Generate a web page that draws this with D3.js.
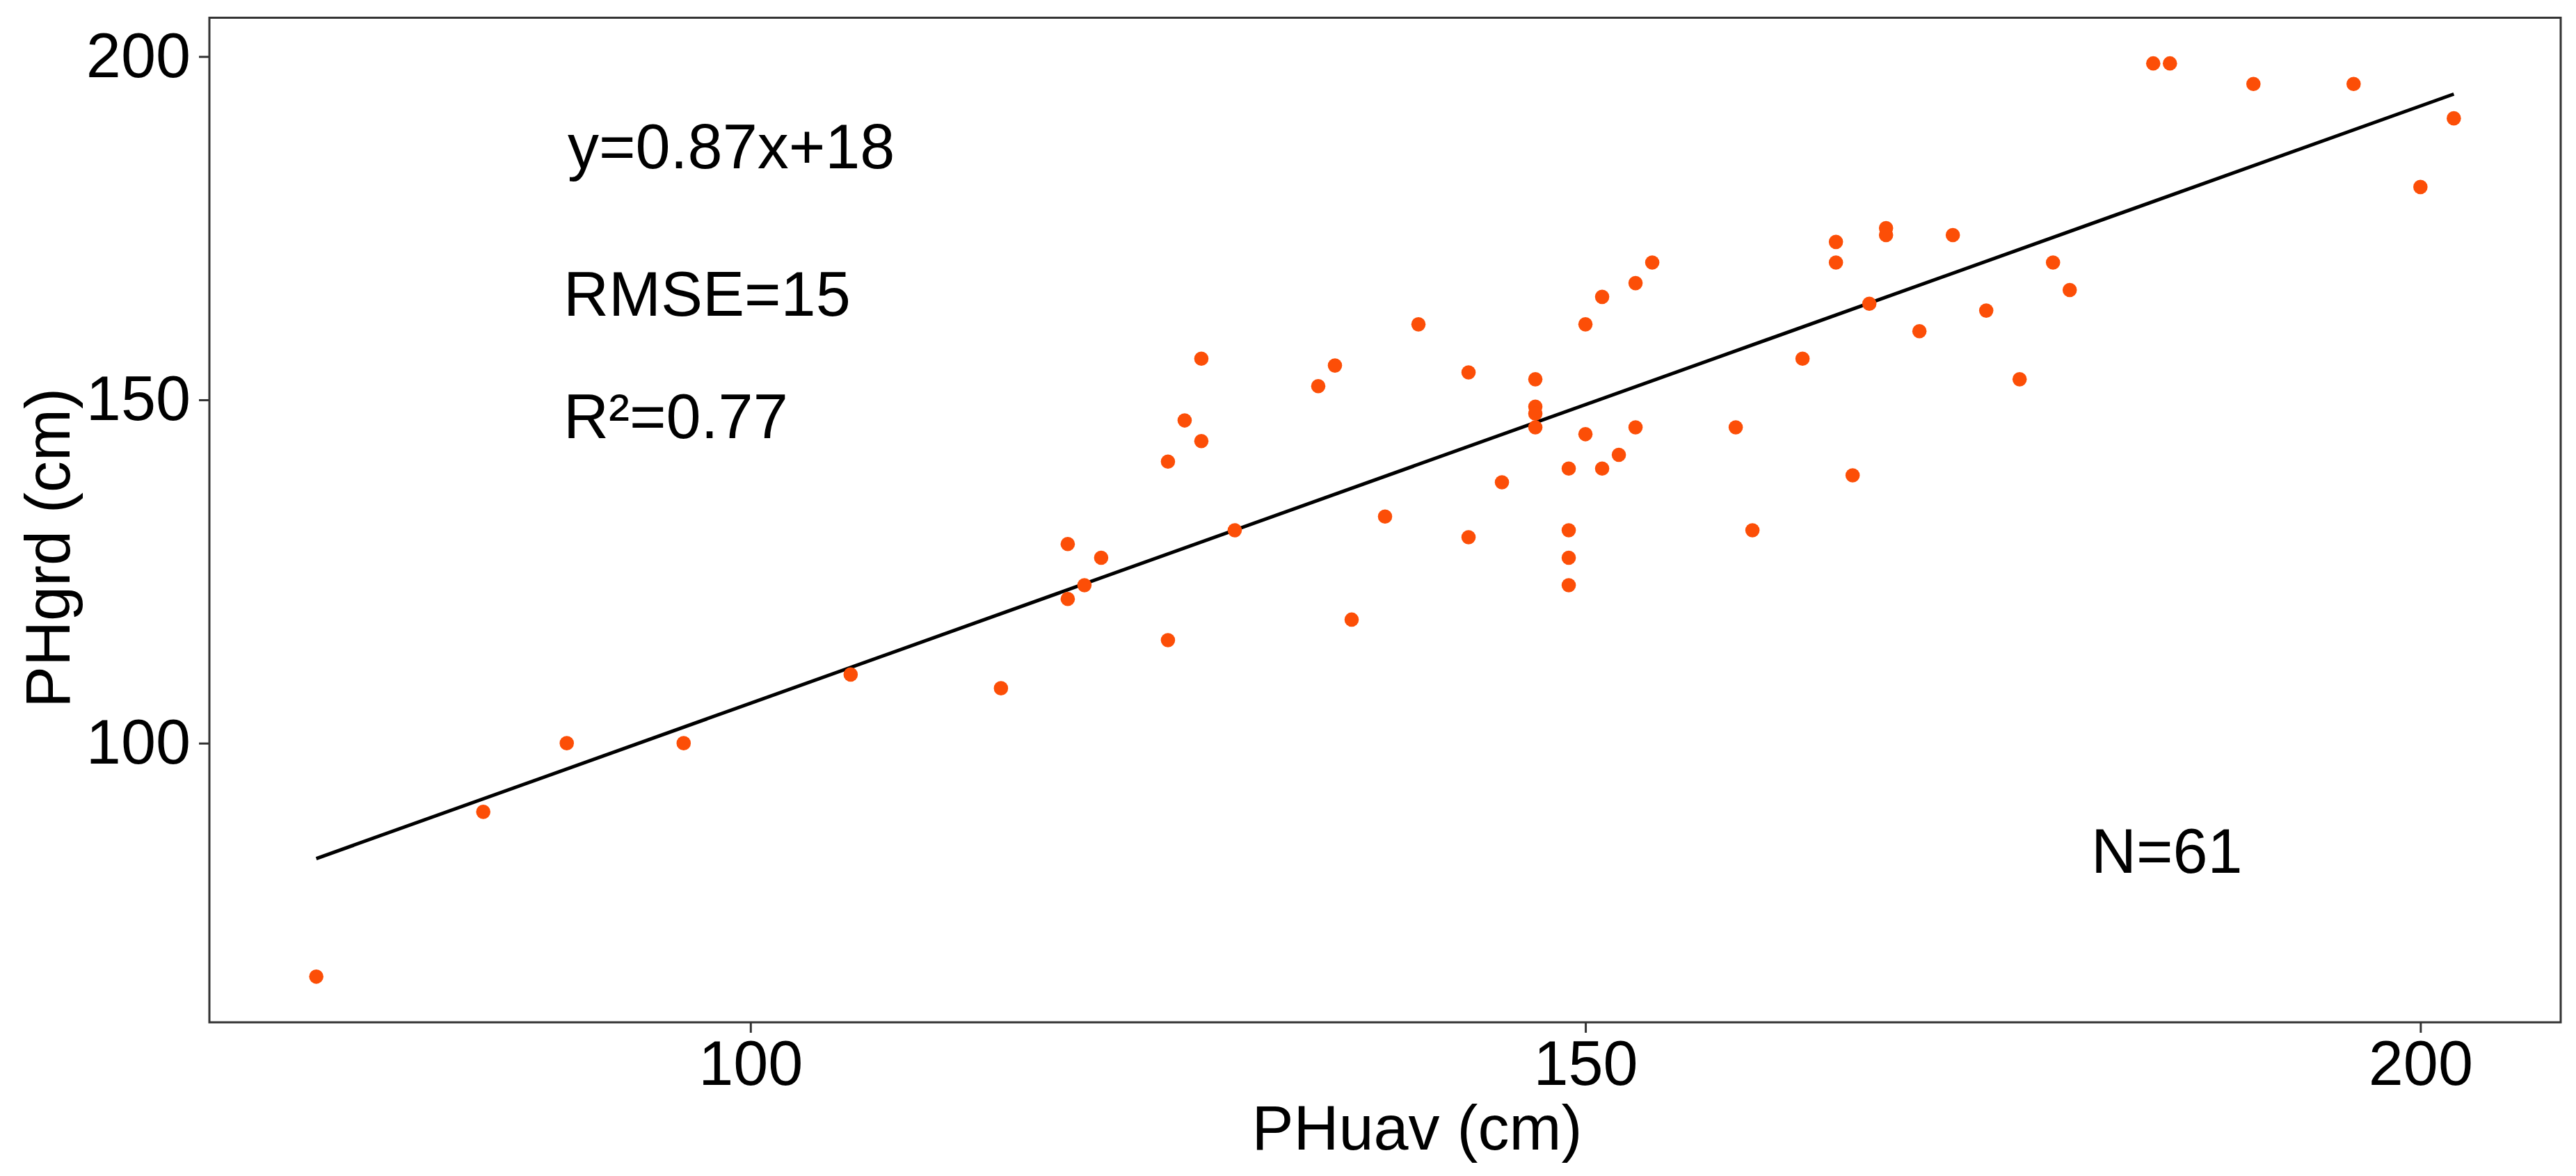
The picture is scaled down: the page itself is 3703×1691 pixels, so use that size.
<!DOCTYPE html>
<html>
<head>
<meta charset="utf-8">
<script src="https://cdn.jsdelivr.net/npm/d3@7"></script>
<style>
  html, body { margin: 0; padding: 0; background: #fff; }
  text { font-family: "Liberation Sans", Arial, sans-serif; fill: #000; }
</style>
</head>
<body>
<div id="chart"></div>
<script>
// values (cm)
var phUav = [74, 84, 89, 96, 106, 115, 119, 119, 120, 121,
             125, 125, 126, 127, 127, 129, 134, 135, 136, 138,
             140, 143, 143, 145, 147, 147, 147, 147, 149, 149,
             149, 149, 150, 150, 151, 151, 152, 153, 153, 154,
             159, 160, 163, 165, 165, 166, 167, 168, 168, 170,
             172, 174, 176, 178, 179, 184, 185, 190, 196, 200,
             202];
var phGrd = [66, 90, 100, 100, 110, 108, 129, 121, 123, 127,
             141, 115, 147, 156, 144, 131, 152, 155, 118, 133,
             161, 154, 130, 138, 153, 149, 148, 146, 140, 131,
             127, 123, 161, 145, 165, 140, 142, 167, 146, 170,
             146, 131, 156, 173, 170, 139, 164, 175, 174, 160,
             174, 163, 153, 170, 166, 199, 199, 196, 196, 181,
             191];

var xTicks = [100, 150, 200];
var yTicks = [100, 150, 200];

var statLines = ["y=0.87x+18", "RMSE=15", "R\u00b2=0.77"];
var nLabel = "N=61";

var W = 3703, H = 1691;
var panel = {left: 301, right: 3681, top: 25.5, bottom: 1470};
var fontSize = 90;

var points = phUav.map(function(d, i){ return {x: d, y: phGrd[i]}; });

var svg = d3.select("#chart").append("svg")
    .attr("width", W)
    .attr("height", H);

svg.append("rect")
    .attr("width", W).attr("height", H)
    .attr("fill", "#fff");

// scales (ggplot style 5% padding)
var x = d3.scaleLinear()
    .domain([67.6, 208.4])
    .range([panel.left, panel.right]);

var y = d3.scaleLinear()
    .domain([59.35, 205.65])
    .range([panel.bottom, panel.top]);

// axes
var xAxis = svg.append("g")
    .attr("transform", "translate(0," + panel.bottom + ")")
    .call(d3.axisBottom(x).tickValues(xTicks).tickSize(15).tickPadding(11.5));

var yAxis = svg.append("g")
    .attr("transform", "translate(" + panel.left + ",0)")
    .call(d3.axisLeft(y).tickValues(yTicks).tickSize(15).tickPadding(12));

[xAxis, yAxis].forEach(function(a){
    a.select(".domain").remove();
    a.selectAll(".tick line").attr("stroke", "#333").attr("stroke-width", 3);
    a.selectAll(".tick text")
        .attr("fill", "#000")
        .style("font-size", fontSize + "px")
        .style("font-family", '"Liberation Sans", Arial, sans-serif');
});

// least squares fit of the points
var mx = d3.mean(phUav), my = d3.mean(phGrd);
var sxy = d3.sum(points, function(d){ return (d.x - mx) * (d.y - my); });
var sxx = d3.sum(points, function(d){ return (d.x - mx) * (d.x - mx); });
var slope = sxy / sxx, intercept = my - slope * mx;
var xr = d3.extent(phUav);
var fit = xr.map(function(v){ return {x: v, y: intercept + slope * v}; });

svg.append("path")
    .datum(fit)
    .attr("fill", "none")
    .attr("stroke", "#000")
    .attr("stroke-width", 5)
    .attr("d", d3.line().x(function(d){ return x(d.x); }).y(function(d){ return y(d.y); }));

svg.selectAll("circle.pt")
    .data(points)
    .enter().append("circle")
    .attr("class", "pt")
    .attr("cx", function(d){ return x(d.x); })
    .attr("cy", function(d){ return y(d.y); })
    .attr("r", 10.3)
    .attr("fill", "#FC4E07");

// panel border
svg.append("rect")
    .attr("x", panel.left).attr("y", panel.top)
    .attr("width", panel.right - panel.left)
    .attr("height", panel.bottom - panel.top)
    .attr("fill", "none")
    .attr("stroke", "#333")
    .attr("stroke-width", 3);

// annotations
var statX = [816, 810, 810];
var statY = [242, 454, 630];
svg.selectAll("text.stat")
    .data(statLines)
    .enter().append("text")
    .attr("class", "stat")
    .attr("x", function(d, i){ return statX[i]; })
    .attr("y", function(d, i){ return statY[i]; })
    .style("font-size", fontSize + "px")
    .text(function(d){ return d; });

svg.append("text")
    .attr("x", 3006)
    .attr("y", 1255)
    .style("font-size", fontSize + "px")
    .text(nLabel);

// axis titles
svg.append("text")
    .attr("text-anchor", "middle")
    .attr("x", 2037)
    .attr("y", 1653)
    .style("font-size", fontSize + "px")
    .text("PHuav (cm)");

svg.append("text")
    .attr("text-anchor", "middle")
    .attr("transform", "translate(100,788) rotate(-90)")
    .style("font-size", fontSize + "px")
    .text("PHgrd (cm)");
</script>
</body>
</html>
